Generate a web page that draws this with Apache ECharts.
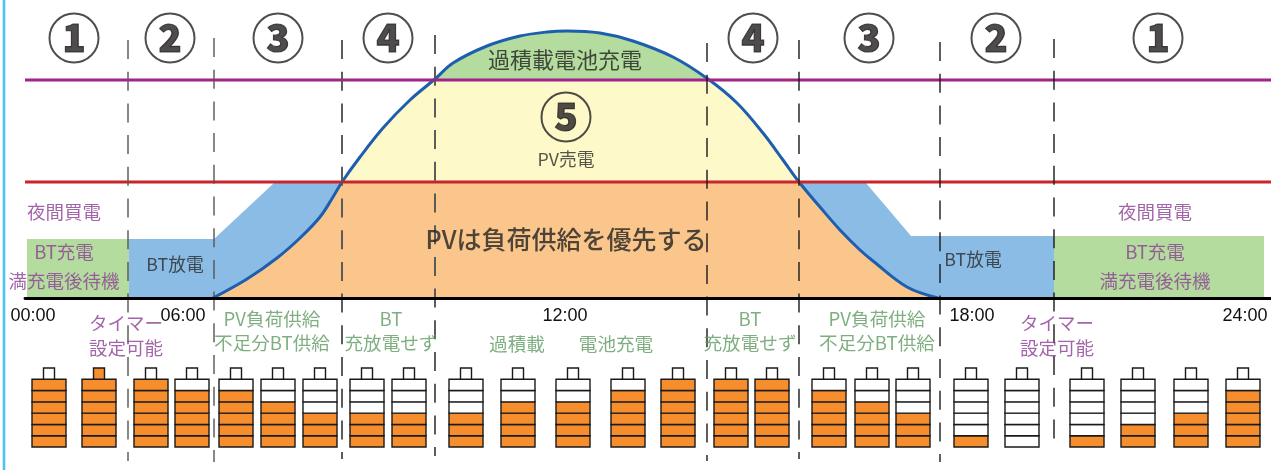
<!DOCTYPE html>
<html><head><meta charset="utf-8">
<style>html,body{margin:0;padding:0;background:#fff}#c{width:1271px;height:470px}</style>
<script src="https://cdn.jsdelivr.net/npm/echarts@6/dist/echarts.min.js"></script>
</head><body><div id="c"></div>
<script>
// --- Data (x = position along the schematic day) ---
const pvCurve = [[213,0],[247,19],[277,40],[300,60],[320,81],[333,101],[342,116],[360,141],[383,170],[410,198],[435,219],[453,235],[487,252],[520,262],[547,266],[567,267],[600,265],[633,257],[673,241],[708,219],[737,195],[763,165],[783,138],[799,116],[820,91],[840,68],[860,48],[873,37],[907,11],[938,0]];
const overLevel = 218, loadLevel = 116;
const nightLeft = [[27,59],[129,59]];
const nightRight = [[1054,62],[1264,62]];
const btLeft = [[129,59],[214,59],[274,115],[341,115]];
const btRight = [[799,115],[866,115],[911,62],[1054,62]];
const tickPositions = [33,183,565,972,1245];
const tickLabels = ['00:00','06:00','12:00','18:00','24:00'];
const phaseMarks = [[74,38,'1'],[170,38,'2'],[278,38,'3'],[388,38,'4'],[566,117,'5'],[753,38,'4'],[869,38,'3'],[996,38,'2'],[1158,38,'1']];
const boundaries = [[128,40,461],[214,38,462],[342,40,459],[435,35,456],[707,43,461],[799,40,459],[940,42,462],[1054,39,449]];
const batteryCenters = [49,99,151,192,236,278,320,367,409,466,518,573,628,678,731,772,829,872,913,971,1022,1087,1138,1191,1243];
const batteryLevels  = [6,7,6,5,5,4,3,3,3,3,4,4,5,6,6,6,5,4,3,1,0,1,2,3,5];
const purpleTexts = [[64,212,'夜間買電'],[64,252,'BT充電'],[64,281,'満充電後待機'],[1155,212,'夜間買電'],[1155,252,'BT充電'],[1155,281,'満充電後待機'],[126,323,'タイマー'],[126,348,'設定可能'],[1057,323,'タイマー'],[1057,348,'設定可能']];
const darkTexts = [[175,264,'BT放電'],[973,259,'BT放電'],[566,159,'PV売電']];
const greenTexts = [[272,319,'PV負荷供給'],[272,343,'不足分BT供給'],[391,319,'BT'],[391,343,'充放電せず'],[517,344,'過積載'],[616,344,'電池充電'],[750,319,'BT'],[750,343,'充放電せず'],[877,319,'PV負荷供給'],[877,343,'不足分BT供給']];
const headTexts = [[565,60,'過積載電池充電',22,400],[566,239,'PVは負荷供給を優先する',25,500]];

const CJK = '"Noto Sans CJK JP","Noto Sans",sans-serif';
const plotH = 298, yMax = 298;
const stopOver = 1 - overLevel / yMax, stopLoad = 1 - loadLevel / yMax;

function area(data, color) {
  return {type:'line',xAxisIndex:0,yAxisIndex:0,data,showSymbol:false,silent:true,z:2,
    lineStyle:{width:0},areaStyle:{color,opacity:1}};
}
function hline(level, color) {
  return {type:'line',xAxisIndex:0,yAxisIndex:0,data:[[25,level],[1271,level]],showSymbol:false,silent:true,z:5,
    lineStyle:{color,width:2.8}};
}
function textSeries(rows, color, size, weight, family) {
  return {type:'scatter',xAxisIndex:1,yAxisIndex:1,data:rows,symbolSize:0,silent:true,z:10,
    label:{show:true,position:'inside',align:'center',verticalAlign:'middle',color,fontSize:size,fontWeight:weight||400,fontFamily:family||CJK,
      formatter:p=>p.value[2]}};
}
const dashSeries = boundaries.map((b,i)=>({
  type:'line',xAxisIndex:1,yAxisIndex:1,data:[[b[0],b[1]],[b[0],b[2]]],showSymbol:false,silent:true,z:6,
  lineStyle:{color:i<4?'#555':'#1a1a1a',width:i===2||i===3?1.9:1.4,type:[19,12.7]}
}));

const option = {
  animation:false,
  backgroundColor:'#fff',
  grid:[
    {left:25,top:0,width:1246,height:plotH},
    {left:0,top:0,width:1271,height:470},
    {left:0,top:368,width:1271,height:79}
  ],
  xAxis:[
    {type:'value',gridIndex:0,min:25,max:1271,z:7,splitLine:{show:false},axisTick:{show:false},
      axisLine:{show:true,onZero:false,lineStyle:{color:'#000',width:2.8}},
      axisLabel:{show:true,customValues:tickPositions,margin:9,fontSize:18,color:'#111',fontFamily:'"Liberation Sans",Arial,sans-serif',
        formatter:v=>tickLabels[tickPositions.indexOf(v)]}},
    {type:'value',gridIndex:1,min:0,max:1271,show:false},
    {type:'value',gridIndex:2,min:0,max:1271,show:false}
  ],
  yAxis:[
    {type:'value',gridIndex:0,min:0,max:yMax,show:false},
    {type:'value',gridIndex:1,min:0,max:470,inverse:true,show:false},
    {type:'value',gridIndex:2,min:0,max:7,show:false}
  ],
  series:[
    area(nightLeft,'#b4dc9e'),
    area(nightRight,'#b4dc9e'),
    area(btLeft,'#8abce6'),
    area(btRight,'#8abce6'),
    {type:'line',xAxisIndex:0,yAxisIndex:0,data:pvCurve,smooth:0.35,showSymbol:false,silent:true,z:3,
      lineStyle:{color:'#1d5fae',width:3},
      areaStyle:{opacity:1,color:{type:'linear',global:true,x:0,y:0,x2:0,y2:plotH,colorStops:[
        {offset:0,color:'#b4dc9e'},{offset:stopOver,color:'#b4dc9e'},
        {offset:stopOver,color:'#fef9c8'},{offset:stopLoad,color:'#fef9c8'},
        {offset:stopLoad,color:'#fbc68b'},{offset:1,color:'#fbc68b'}]}}},
    hline(overLevel,'#a0228c'),
    hline(loadLevel,'#c9252d'),
    {type:'line',xAxisIndex:1,yAxisIndex:1,data:[[4,0],[4,470]],showSymbol:false,silent:true,z:1,
      lineStyle:{color:'#4dc4f0',width:2.6}},
    ...dashSeries,
    {type:'custom',xAxisIndex:2,yAxisIndex:2,data:batteryCenters.map((c,i)=>[c,batteryLevels[i]]),silent:true,z:8,clip:false,
      renderItem:(params,api)=>{
        const cx=api.value(0), lvl=api.value(1), kids=[];
        for(let i=0;i<7;i++){
          const a=api.coord([cx,i]), b=api.coord([cx,i+1]);
          const w=i===6?11:34;
          kids.push({type:'rect',shape:{x:a[0]-w/2,y:b[1],width:w,height:a[1]-b[1]},
            style:{fill:i<lvl?'#f68e2d':'#fff',stroke:'#1a1a1a',lineWidth:1.4}});
        }
        return {type:'group',children:kids};
      }},
    {type:'scatter',xAxisIndex:1,yAxisIndex:1,data:phaseMarks,symbol:'circle',symbolSize:49,silent:true,z:9,
      itemStyle:{color:'rgba(0,0,0,0)',borderColor:'#222',borderWidth:2},
      label:{show:true,position:'inside',align:'center',verticalAlign:'middle',color:'#231f20',fontSize:38,fontWeight:900,fontFamily:CJK,
        textBorderColor:'#231f20',textBorderWidth:1.2,
        formatter:p=>p.value[2]}},
    textSeries(purpleTexts,'#8c3f94',18.5),
    textSeries(darkTexts,'#2b2b2b',17.8),
    textSeries(greenTexts,'#5f9a62',18.6),
    ...headTexts.map(t=>textSeries([t],'#222',t[3],t[4]))
  ]
};
echarts.init(document.getElementById('c'),null,{renderer:'canvas'}).setOption(option);
</script></body></html>
